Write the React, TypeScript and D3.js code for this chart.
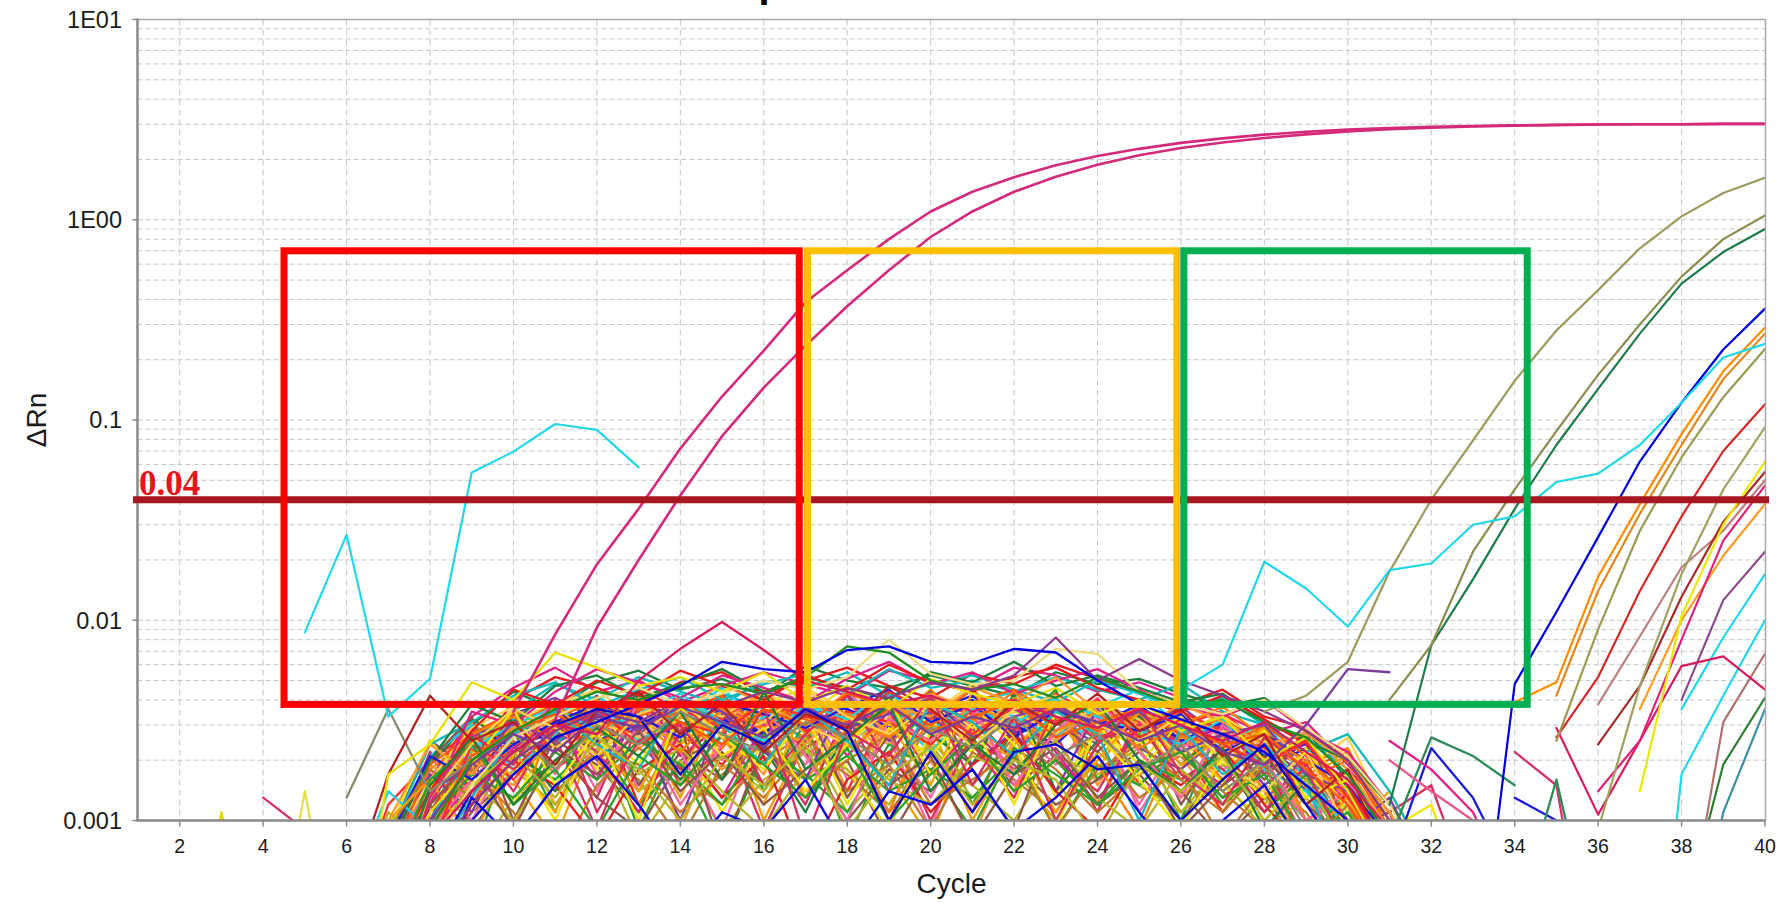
import * as d3 from 'd3'
import { useEffect, useRef } from 'react'

const W = 1789
const H = 903
const FONT = '"Liberation Sans", Arial, sans-serif'

const cycleTicks = [2, 4, 6, 8, 10, 12, 14, 16, 18, 20, 22, 24, 26, 28, 30, 32, 34, 36, 38, 40]
const decadeTicks = [0.001, 0.01, 0.1, 1, 10]
const decadeLabels = ['0.001', '0.01', '0.1', '1E00', '1E01']

const threshold = 0.04
const thresholdText = '0.04'

// highlighted windows, [from cycle, to cycle], all between the same ΔRn range
const boxCycles: [number, number][] = [[4.5, 16.85], [17.05, 25.9], [26.07, 34.3]]
const boxDeltaRn: [number, number] = [0.0038, 0.7]
const boxColors = ['#ff0000', '#ffc000', '#00b050']

// amplified wells, ΔRn per cycle, first value at `start`
const pinkA = [0.0035, 0.0085, 0.019, 0.036, 0.072, 0.131, 0.222, 0.387, 0.56, 0.8, 1.1, 1.38, 1.63, 1.87, 2.08, 2.26, 2.42, 2.55, 2.66, 2.75, 2.82, 2.87, 2.91, 2.94, 2.96, 2.98, 2.99, 3.0, 3.0, 3.01, 3.01]
const pinkB = [0.0032, 0.0092, 0.02, 0.042, 0.083, 0.145, 0.235, 0.37, 0.56, 0.82, 1.1, 1.38, 1.64, 1.88, 2.1, 2.28, 2.43, 2.56, 2.67, 2.76, 2.83, 2.88, 2.92, 2.95, 2.97, 2.99, 3.0, 3.0, 3.01, 3.01]
const cyanEarly = [0.0087, 0.0267, 0.0033, 0.0051, 0.0547, 0.0695, 0.0955, 0.0893, 0.058]
const cyanLate = [0.0045, 0.006, 0.0196, 0.0144, 0.0093, 0.0178, 0.0192, 0.03, 0.033, 0.049, 0.054, 0.075, 0.122, 0.205, 0.24]
const olive1 = [0.0035, 0.0042, 0.0062, 0.0175, 0.04, 0.079, 0.157, 0.28, 0.445, 0.72, 1.04, 1.36, 1.62]
const olive2 = [0.004, 0.0075, 0.022, 0.045, 0.088, 0.168, 0.3, 0.52, 0.8, 1.05]
const darkGreen1 = [0.0012, 0.0075, 0.016, 0.036, 0.075, 0.143, 0.27, 0.48, 0.69, 0.9]
const blue1 = [0.0001, 0.0048, 0.011, 0.026, 0.062, 0.122, 0.225, 0.36]
const orange1 = [0.0039, 0.0049, 0.0165, 0.038, 0.085, 0.175, 0.29]
const orange2 = [0.0042, 0.014, 0.034, 0.075, 0.16, 0.27]
const olive3 = [0.0025, 0.009, 0.028, 0.065, 0.13, 0.226]
const red1 = [0.0026, 0.0052, 0.014, 0.033, 0.07, 0.12]
const olive4 = [0.0009, 0.0047, 0.017, 0.045, 0.092]
const yellow1 = [0.0014, 0.0105, 0.03, 0.062]
const maroon1 = [0.0024, 0.0047, 0.0131, 0.031, 0.055]
const rosy1 = [0.0038, 0.0083, 0.0184, 0.028, 0.05]
const magenta1 = [0.0014, 0.0025, 0.008, 0.025, 0.047]
const orange3 = [0.0036, 0.01, 0.021, 0.038]
const purple1 = [0.004, 0.0126, 0.022]
const cyanB = [0.0036, 0.0082, 0.017]
const cyanC = [0.00002, 0.0017, 0.0042, 0.01]
const rosy2 = [0.0002, 0.0031, 0.0068]
const darkGreen2 = [0.0003, 0.0019, 0.0041]
const teal1 = [0.0001, 0.0011, 0.0036]
const magentaV = [0.0029, 0.00107, 0.0025, 0.0059, 0.0066, 0.0045]

const samples: { id: string; start: number; values: number[] }[] = [
  { id: 'teal1', start: 38, values: teal1 },
  { id: 'darkGreen2', start: 38, values: darkGreen2 },
  { id: 'rosy2', start: 38, values: rosy2 },
  { id: 'cyanC', start: 37, values: cyanC },
  { id: 'cyanB', start: 38, values: cyanB },
  { id: 'purple1', start: 38, values: purple1 },
  { id: 'magentaV', start: 35, values: magentaV },
  { id: 'orange3', start: 37, values: orange3 },
  { id: 'magenta1', start: 36, values: magenta1 },
  { id: 'rosy1', start: 36, values: rosy1 },
  { id: 'maroon1', start: 36, values: maroon1 },
  { id: 'yellow1', start: 37, values: yellow1 },
  { id: 'olive4', start: 36, values: olive4 },
  { id: 'red1', start: 35, values: red1 },
  { id: 'olive3', start: 35, values: olive3 },
  { id: 'orange2', start: 35, values: orange2 },
  { id: 'orange1', start: 34, values: orange1 },
  { id: 'blue1', start: 33, values: blue1 },
  { id: 'darkGreen1', start: 31, values: darkGreen1 },
  { id: 'olive2', start: 31, values: olive2 },
  { id: 'olive1', start: 28, values: olive1 },
  { id: 'cyanLate', start: 26, values: cyanLate },
  { id: 'cyanEarly', start: 5, values: cyanEarly },
  { id: 'pinkB', start: 11, values: pinkB },
  { id: 'pinkA', start: 10, values: pinkA },
]

const sampleColors: Record<string, string> = {
  teal1: '#3a8fa0', darkGreen2: '#2e7d32', rosy2: '#b07070', cyanC: '#22d8e6', cyanB: '#22d8e6',
  purple1: '#8b4a8b', magentaV: '#d81b60', orange3: '#ff9a20', magenta1: '#e0207a', rosy1: '#bc7f7f',
  maroon1: '#a52a2a', yellow1: '#e8e800', olive4: '#a0a060', red1: '#d62728', olive3: '#9a9a55',
  orange2: '#e0861a', orange1: '#ff8c00', blue1: '#0000dd', darkGreen1: '#1e7b4a', olive2: '#8c8c50',
  olive1: '#9c9a5c', cyanLate: '#22d8e6', cyanEarly: '#22d8e6', pinkB: '#d42a7c', pinkA: '#d42a7c',
}

// background wells, ΔRn in units of 1e-4, first value at cycle 6
const NOISE_START = 6
const NOISE_UNIT = 1e-4

const noiseHigh = [
  [1, 4, 10, 22, 35, 48, 40, 52, 44, 38, 50, 46, 55, 42, 48, 53, 45, 39, 50, 43, 36, 41, 30, 26, 18, 9, 4],
  [2, 6, 14, 28, 45, 38, 50, 42, 56, 47, 40, 53, 45, 60, 49, 44, 52, 58, 46, 40, 35, 42, 32, 24, 15, 7],
  [1, 3, 8, 19, 40, 52, 46, 38, 49, 55, 43, 50, 58, 47, 41, 54, 48, 60, 51, 44, 38, 45, 33, 29, 20, 10, 4, 2],
  [3, 5, 12, 35, 30, 44, 57, 49, 41, 53, 46, 39, 51, 62, 48, 55, 43, 50, 57, 45, 37, 33, 40, 28, 22, 12],
  [1, 5, 16, 33, 46, 58, 44, 50, 39, 47, 55, 48, 42, 56, 50, 45, 58, 53, 44, 49, 41, 34, 27, 31, 19, 11, 5],
  [2, 7, 20, 38, 31, 47, 53, 41, 48, 57, 44, 52, 46, 40, 55, 49, 62, 47, 53, 46, 39, 43, 31, 25, 20, 12, 6],
  [1, 2, 9, 30, 44, 36, 49, 56, 45, 51, 42, 59, 50, 46, 53, 47, 42, 55, 48, 51, 43, 37, 41, 28, 16, 8],
  [2, 8, 24, 31, 42, 49, 37, 45, 52, 40, 48, 54, 43, 57, 46, 50, 44, 52, 45, 40, 48, 35, 30, 22, 27, 14, 6],
]

const noiseMid = [
  [1, 5, 9, 16, 24, 30, 22, 36, 28, 41, 33, 26, 38, 31, 45, 29, 35, 40, 27, 33, 24, 30, 19, 25, 14, 8, 3],
  [3, 8, 21, 30, 18, 27, 39, 25, 33, 46, 30, 41, 24, 35, 28, 40, 33, 26, 37, 45, 29, 24, 31, 17, 9, 4],
  [1, 4, 13, 24, 36, 29, 21, 34, 40, 26, 31, 45, 33, 27, 38, 23, 36, 42, 30, 25, 33, 20, 14, 22, 9, 5, 2],
  [2, 9, 15, 11, 22, 38, 45, 31, 39, 27, 43, 36, 29, 41, 34, 48, 37, 26, 35, 40, 28, 33, 25, 18, 26, 10, 4, 2],
  [3, 10, 24, 17, 29, 34, 26, 41, 35, 48, 38, 30, 44, 37, 33, 46, 39, 52, 35, 29, 38, 31, 24, 27, 20, 11, 5],
  [1, 5, 12, 20, 15, 28, 35, 23, 30, 18, 26, 39, 31, 24, 37, 28, 20, 33, 27, 35, 22, 16, 24, 10, 13, 5, 2],
  [2, 3, 8, 27, 33, 25, 40, 31, 22, 36, 29, 42, 34, 26, 39, 31, 44, 28, 35, 23, 30, 37, 26, 20, 13, 7],
  [1, 6, 18, 26, 20, 32, 27, 38, 24, 35, 41, 28, 33, 25, 40, 34, 29, 37, 31, 26, 34, 22, 29, 19, 23, 9, 3],
  [4, 14, 9, 23, 30, 37, 28, 34, 43, 31, 25, 38, 32, 45, 27, 36, 30, 41, 33, 28, 24, 32, 18, 14, 8, 3],
  [1, 3, 11, 25, 19, 34, 42, 30, 37, 24, 33, 28, 40, 35, 22, 38, 44, 31, 26, 37, 29, 23, 30, 16, 11, 5, 2],
  [2, 7, 16, 29, 37, 23, 31, 26, 39, 33, 45, 30, 24, 36, 41, 29, 35, 27, 38, 32, 21, 28, 24, 13, 17, 7, 3],
  [1, 2, 6, 20, 31, 39, 33, 25, 36, 29, 38, 46, 35, 30, 42, 33, 27, 40, 34, 31, 26, 35, 20, 26, 12, 6],
  [3, 9, 19, 14, 27, 22, 35, 41, 29, 37, 31, 24, 38, 28, 43, 36, 32, 25, 39, 30, 35, 27, 22, 28, 18, 9, 4],
  [1, 4, 15, 32, 26, 36, 29, 43, 34, 27, 40, 33, 47, 30, 25, 37, 31, 42, 28, 24, 31, 19, 25, 15, 9, 4],
  [2, 5, 13, 22, 35, 28, 40, 32, 24, 35, 44, 27, 32, 38, 30, 26, 41, 35, 29, 36, 27, 21, 29, 17, 21, 10, 4, 1],
  [1, 8, 25, 18, 30, 24, 33, 38, 27, 42, 30, 36, 26, 41, 35, 28, 38, 32, 24, 34, 28, 33, 23, 17, 11, 6, 2],
  [2, 4, 10, 17, 28, 36, 25, 30, 38, 32, 27, 41, 36, 29, 34, 40, 27, 35, 30, 38, 25, 31, 21, 24, 14, 5],
  [1, 2, 9, 21, 28, 34, 27, 39, 31, 24, 36, 30, 43, 37, 28, 33, 39, 26, 31, 36, 30, 24, 27, 18, 12, 6, 2],
  [2, 6, 17, 12, 26, 33, 39, 29, 35, 42, 28, 34, 25, 38, 32, 45, 30, 36, 28, 33, 27, 31, 22, 16, 20, 9],
  [1, 3, 7, 24, 18, 29, 36, 24, 31, 27, 39, 33, 29, 44, 35, 27, 37, 31, 40, 26, 32, 24, 19, 25, 13, 7, 3],
  [3, 12, 20, 28, 22, 37, 30, 45, 36, 29, 34, 41, 31, 27, 39, 34, 28, 43, 33, 25, 30, 35, 23, 19, 10, 4],
  [1, 4, 14, 19, 31, 25, 34, 28, 40, 35, 23, 37, 29, 34, 41, 26, 33, 38, 29, 35, 22, 27, 30, 17, 14, 6, 2],
  [2, 5, 10, 26, 34, 41, 32, 27, 37, 30, 42, 35, 28, 40, 33, 30, 36, 27, 34, 29, 37, 26, 21, 14, 9, 4],
  [1, 8, 21, 16, 24, 31, 38, 33, 26, 39, 34, 29, 37, 45, 31, 38, 26, 35, 31, 28, 34, 22, 27, 20, 15, 8, 3],
  [2, 3, 12, 30, 23, 28, 35, 42, 30, 36, 27, 33, 39, 29, 35, 42, 30, 24, 37, 33, 25, 29, 18, 23, 11, 5],
  [1, 6, 19, 27, 35, 30, 24, 33, 41, 29, 38, 32, 26, 36, 30, 39, 45, 33, 28, 34, 27, 23, 30, 21, 13, 6, 2],
  [3, 9, 14, 21, 30, 38, 29, 36, 31, 24, 35, 40, 30, 27, 38, 32, 36, 28, 40, 31, 26, 33, 24, 18, 22, 10, 4],
  [1, 2, 11, 23, 16, 28, 34, 26, 39, 32, 45, 28, 35, 31, 24, 36, 30, 39, 26, 30, 35, 28, 20, 25, 14, 7, 2],
  [2, 7, 16, 25, 32, 24, 37, 31, 28, 43, 36, 25, 33, 39, 29, 34, 27, 40, 35, 29, 24, 31, 22, 15, 9, 3],
]

const noiseLow = [
  [1, 2, 5, 12, 20, 15, 8, 18, 24, 13, 21, 6, 16, 22, 11, 19, 27, 14, 9, 20, 15, 23, 12, 7, 14, 4, 2],
  [2, 6, 14, 9, 17, 25, 19, 11, 22, 16, 28, 13, 20, 8, 18, 24, 15, 21, 12, 17, 10, 19, 14, 6, 9, 3],
  [1, 3, 9, 18, 11, 6, 15, 23, 17, 12, 20, 27, 14, 19, 9, 22, 16, 11, 24, 13, 18, 8, 15, 11, 5, 2],
  [3, 11, 7, 15, 22, 13, 26, 18, 10, 21, 15, 24, 9, 17, 23, 12, 20, 16, 8, 19, 14, 21, 10, 16, 7, 3],
  [1, 4, 10, 6, 13, 19, 24, 14, 20, 9, 16, 22, 18, 12, 25, 15, 10, 21, 17, 23, 11, 16, 9, 13, 6, 2],
  [2, 5, 16, 24, 12, 18, 9, 21, 15, 27, 19, 13, 23, 10, 17, 26, 14, 20, 12, 18, 22, 13, 17, 8, 11, 5, 2],
  [1, 2, 8, 14, 21, 16, 25, 12, 19, 7, 22, 17, 11, 24, 18, 13, 21, 9, 19, 15, 24, 12, 18, 10, 6, 3],
  [2, 7, 12, 20, 9, 23, 17, 28, 14, 22, 12, 18, 26, 15, 21, 8, 17, 23, 13, 20, 9, 15, 21, 12, 8, 4, 2],
  [1, 3, 6, 11, 17, 24, 13, 9, 20, 26, 15, 22, 10, 18, 14, 25, 19, 12, 16, 22, 14, 8, 13, 18, 9, 4],
  [3, 9, 18, 13, 8, 15, 22, 19, 11, 17, 24, 14, 20, 27, 12, 16, 22, 9, 18, 24, 16, 11, 19, 7, 12, 5, 2],
  [1, 5, 11, 19, 25, 14, 21, 16, 8, 19, 13, 23, 17, 11, 20, 15, 26, 18, 11, 17, 21, 14, 9, 15, 6, 3],
  [2, 4, 7, 16, 10, 20, 27, 17, 23, 14, 9, 18, 24, 16, 12, 21, 17, 25, 13, 9, 18, 12, 20, 10, 7, 3],
  [1, 6, 15, 10, 18, 12, 23, 8, 16, 21, 14, 26, 11, 19, 24, 13, 18, 10, 22, 15, 11, 19, 13, 8, 12, 4, 1],
  [2, 3, 10, 17, 13, 22, 16, 25, 19, 12, 27, 16, 21, 14, 18, 9, 23, 17, 12, 20, 16, 21, 11, 17, 8, 4],
]

// wide zig-zag wells that run from the axis to the top of the band
const noiseWide = [
  [1, 3, 12, 6, 28, 11, 34, 9, 25, 40, 14, 31, 8, 22, 37, 12, 29, 45, 16, 27, 10, 33, 19, 7, 15, 5, 2],
  [2, 8, 20, 33, 10, 26, 42, 15, 30, 7, 24, 38, 13, 27, 44, 18, 9, 31, 22, 36, 12, 25, 16, 28, 9, 11, 3],
  [1, 2, 7, 18, 30, 12, 22, 36, 9, 28, 17, 41, 14, 33, 20, 8, 26, 39, 15, 30, 21, 11, 24, 13, 18, 6, 2],
  [3, 6, 14, 25, 9, 35, 20, 12, 31, 23, 46, 16, 29, 11, 35, 25, 14, 38, 19, 9, 27, 16, 30, 10, 14, 4],
  [1, 4, 9, 29, 16, 8, 27, 33, 13, 39, 10, 26, 35, 17, 8, 30, 21, 44, 12, 28, 18, 34, 12, 20, 8, 3],
  [2, 5, 18, 10, 24, 33, 14, 40, 22, 9, 32, 19, 45, 26, 13, 34, 17, 25, 36, 11, 23, 29, 14, 9, 16, 7, 2],
  [1, 3, 13, 27, 19, 40, 11, 25, 30, 16, 37, 8, 28, 21, 42, 15, 33, 10, 24, 38, 17, 12, 26, 18, 7, 3],
  [1, 7, 22, 13, 34, 26, 9, 31, 18, 43, 24, 12, 36, 29, 10, 27, 39, 20, 14, 31, 25, 18, 11, 22, 12, 5, 1],
  [2, 4, 11, 19, 36, 15, 28, 10, 37, 21, 29, 14, 24, 40, 17, 31, 12, 35, 27, 16, 9, 21, 28, 13, 16, 9, 12, 3],
  [1, 2, 8, 23, 12, 30, 18, 44, 27, 11, 25, 35, 18, 9, 28, 22, 41, 13, 30, 19, 34, 15, 10, 17, 11, 4],
  [3, 10, 16, 8, 21, 38, 24, 14, 33, 27, 12, 39, 23, 31, 15, 44, 26, 11, 20, 35, 19, 26, 14, 8, 13, 5, 2],
  [1, 5, 14, 31, 20, 11, 35, 26, 17, 42, 29, 13, 34, 20, 30, 10, 24, 33, 18, 38, 13, 21, 17, 25, 9, 14, 6],
  [2, 3, 9, 16, 26, 38, 17, 29, 12, 24, 36, 21, 10, 32, 25, 38, 15, 28, 41, 22, 13, 30, 20, 10, 14, 6, 2],
  [1, 6, 21, 12, 29, 17, 40, 14, 36, 20, 31, 44, 16, 26, 9, 35, 29, 19, 33, 12, 27, 18, 24, 13, 7, 3],
  [2, 4, 12, 26, 14, 32, 22, 11, 28, 38, 15, 27, 42, 19, 33, 24, 13, 37, 25, 30, 16, 22, 11, 19, 10, 4, 1],
  [1, 3, 8, 17, 35, 24, 13, 38, 21, 30, 9, 25, 33, 14, 40, 28, 18, 27, 11, 36, 21, 15, 26, 14, 18, 11, 15, 4],
  [3, 9, 25, 15, 22, 10, 31, 19, 41, 26, 18, 34, 12, 29, 21, 37, 24, 9, 30, 17, 32, 20, 13, 23, 11, 5, 2],
  [1, 2, 10, 21, 31, 18, 26, 35, 15, 23, 39, 28, 14, 37, 23, 11, 32, 26, 40, 15, 24, 11, 19, 8, 12, 4],
  [2, 7, 17, 11, 28, 36, 20, 30, 10, 34, 22, 16, 43, 25, 35, 19, 28, 14, 36, 23, 18, 27, 15, 22, 9, 13, 5],
  [1, 4, 13, 29, 18, 25, 40, 12, 27, 19, 33, 23, 31, 10, 26, 33, 20, 42, 16, 29, 22, 13, 20, 10, 6, 2],
  [2, 5, 10, 14, 23, 31, 16, 42, 24, 13, 30, 40, 21, 35, 17, 29, 37, 22, 12, 31, 24, 30, 17, 25, 14, 7, 3],
  [1, 3, 15, 26, 12, 20, 29, 21, 35, 16, 44, 18, 26, 38, 14, 24, 17, 30, 39, 20, 14, 23, 9, 16, 7, 2],
  [3, 8, 19, 32, 24, 14, 37, 28, 16, 33, 23, 11, 29, 36, 27, 19, 43, 14, 25, 33, 19, 28, 21, 12, 18, 8, 10, 3],
  [1, 2, 6, 13, 27, 35, 24, 18, 41, 30, 19, 36, 25, 15, 39, 31, 21, 35, 27, 10, 29, 17, 24, 15, 5, 2],
]

// wells that stand out from the background band
const pink15 = [1, 3, 8, 14, 22, 30, 27, 50, 72, 98, 71, 50, 44, 38, 42, 35, 40, 33, 29, 36, 30, 25, 31, 22, 16, 9, 4]
const darkRed = [4, 17, 42, 25, 31, 19, 35, 44, 27, 38, 22, 34, 29, 47, 36, 25, 39, 30, 43, 28, 36, 21, 27, 12, 18, 6, 2]
const blueTop = [1, 2, 4, 10, 17, 26, 31, 38, 47, 62, 57, 55, 71, 74, 62, 61, 72, 69, 50, 38, 32, 27, 22, 15, 10, 5]
const blueMid = [1, 2, 6, 14, 22, 30, 36, 33, 17, 30, 24, 36, 28, 10, 22, 11, 22, 24, 18, 19, 10, 16, 24, 12, 6, 2]
const blueLow = [1, 1, 4, 13, 8, 15, 21, 12, 6, 11, 9, 16, 7, 14, 12, 18, 9, 13, 21, 11, 6, 10, 15, 7, 3]
const greenTop = [1, 3, 9, 20, 28, 36, 44, 40, 46, 48, 43, 52, 74, 69, 50, 45, 48, 41, 52, 44, 37, 40, 31, 26, 17, 8, 3]
const purpleTop = [1, 2, 6, 12, 20, 28, 35, 31, 40, 37, 44, 39, 46, 41, 49, 45, 53, 82, 50, 64, 50, 42, 35, 28, 20, 10, 4]
const purple30 = [1, 3, 10, 19, 27, 22, 33, 29, 37, 31, 26, 35, 30, 38, 27, 33, 29, 36, 31, 25, 30, 22, 19, 30, 57, 55]
const khakiTop = [1, 2, 7, 15, 26, 33, 41, 46, 38, 43, 50, 45, 52, 80, 54, 48, 50, 72, 68, 44, 38, 34, 40, 29, 21, 12, 5]
const yellowTop = [1, 17, 24, 49, 40, 69, 58, 47, 52, 44, 55, 39, 47, 36, 51, 43, 38, 46, 34, 40, 28, 33, 20, 26, 14, 6]
const gray6 = [13, 36, 14, 20, 27, 18, 30, 24, 35, 27, 22, 31, 26, 19, 29, 23, 33, 21, 27, 18, 24, 14, 20, 9, 5]

const noiseMarked = [gray6, darkRed, yellowTop, khakiTop, purple30, blueLow, greenTop, blueMid, purpleTop, pink15, blueTop]
const markedColors = ['#8b8b6b', '#b22222', '#e8e000', '#eedc82', '#7d3c98', '#0000ee', '#228b22', '#0000cc', '#8b3a8b', '#d81b60', '#0000dd']

// short fragments, [start cycle, values in 1e-4]
const noiseBits: [number, number[]][] = [
  [2, [1, 11, 1]],
  [4, [13, 9]],
  [4, [1, 14, 1]],
  [31, [8, 26, 21, 15]],
  [31, [6, 23, 13, 5]],
  [31, [25, 18, 11, 4]],
  [31, [20, 14, 10, 3]],
  [34, [13, 10]],
  [34, [22, 15, 1]],
  [34, [3, 16, 2]],
]
const bitColors = ['#e6d800', '#d6336c', '#e6e04a', '#2e8b57', '#1a1adb', '#e0218a', '#e85a8a', '#1a1adb', '#d6336c', '#2e8b57']

const palette = [
  '#ff8000', '#e41a1c', '#f2e600', '#2ca02c', '#ff5a00', '#19d3e6', '#e0218a', '#f4a000', '#8c564b', '#ff3030',
  '#ffd24d', '#1b7f3a', '#ff66a3', '#c07a2c', '#7b3fa0', '#ff9933', '#14b8b8', '#d62f5f', '#b5b52a', '#1a1adb',
]

export default function App() {
  const svgRef = useRef<SVGSVGElement>(null)

  useEffect(() => {
    document.body.style.margin = '0'
    const svg = d3.select(svgRef.current)
    svg.selectAll('*').remove()

    const x = d3.scaleLinear().domain([1, 40]).range([138, 1765])
    const y = d3.scaleLog().domain([0.001, 10]).range([820.5, 19.5])
    const left = 137.5, right = 1765.5, top = 19.5, bottom = 820.5

    svg.append('defs').append('clipPath').attr('id', 'plotArea')
      .append('rect').attr('x', left).attr('y', top).attr('width', right - left).attr('height', bottom - top)

    // title, mostly above the page edge
    svg.append('text')
      .attr('x', 694).attr('y', -3)
      .attr('font-family', FONT).attr('font-weight', 'bold').attr('font-size', 40)
      .text('Amplification Plot')

    // grid
    const grid = svg.append('g').attr('stroke', '#c6c6c6').attr('stroke-width', 1)
    const minor = d3.range(-3, 1)
      .flatMap(e => d3.range(1, 10).map(k => +(k * Math.pow(10, e)).toPrecision(3)))
      .filter(v => v > 0.001 && v < 10)
    grid.selectAll('line.h').data(minor).join('line')
      .attr('class', 'h')
      .attr('x1', left).attr('x2', right)
      .attr('y1', d => y(d)).attr('y2', d => y(d))
      .attr('stroke-dasharray', '5,3')
    grid.selectAll('line.v').data(cycleTicks.filter(c => c < 40)).join('line')
      .attr('class', 'v')
      .attr('x1', d => x(d)).attr('x2', d => x(d))
      .attr('y1', top).attr('y2', bottom)
      .attr('stroke-dasharray', '6,4')

    const lineAt = (start: number, unit: number) => d3.line<number>()
      .x((_, i) => x(start + i))
      .y(d => y(Math.max(d * unit, 1e-6)))

    const plot = svg.append('g').attr('clip-path', 'url(#plotArea)')
      .attr('fill', 'none').attr('stroke-linejoin', 'round').attr('stroke-linecap', 'round')

    // background band
    const noise = [...noiseMid, ...noiseLow, ...noiseWide, ...noiseHigh]
    const order = d3.range(noise.length).sort((a, b) => ((a * 37) % 79) - ((b * 37) % 79))
    const bg = plot.append('g').attr('stroke-width', 2.3)
    order.forEach((idx, k) => {
      bg.append('path')
        .attr('d', lineAt(NOISE_START, NOISE_UNIT)(noise[idx]))
        .attr('stroke', palette[(k * 7) % palette.length])
    })
    noiseMarked.forEach((vals, i) => {
      bg.append('path')
        .attr('d', lineAt(NOISE_START, NOISE_UNIT)(vals))
        .attr('stroke', markedColors[i])
    })
    noiseBits.forEach(([start, vals], i) => {
      bg.append('path')
        .attr('d', lineAt(start, NOISE_UNIT)(vals))
        .attr('stroke', bitColors[i])
    })

    // amplified wells
    samples.forEach(s => {
      plot.append('path')
        .attr('d', lineAt(s.start, 1)(s.values))
        .attr('stroke', sampleColors[s.id])
        .attr('stroke-width', s.id.startsWith('pink') ? 2.6 : 2.2)
    })

    // axes frame
    const frame = svg.append('g')
    frame.append('line').attr('x1', left).attr('x2', right).attr('y1', top).attr('y2', top)
      .attr('stroke', '#a8a8a8').attr('stroke-width', 1.5)
    frame.append('line').attr('x1', right).attr('x2', right).attr('y1', top).attr('y2', bottom)
      .attr('stroke', '#a8a8a8').attr('stroke-width', 1.5)
    frame.append('line').attr('x1', left).attr('x2', left).attr('y1', top - 1).attr('y2', bottom + 1)
      .attr('stroke', '#8a8a8a').attr('stroke-width', 2.5)
    frame.append('line').attr('x1', left - 1).attr('x2', right).attr('y1', bottom).attr('y2', bottom)
      .attr('stroke', '#8a8a8a').attr('stroke-width', 2.5)

    frame.selectAll('line.xt').data(cycleTicks).join('line')
      .attr('class', 'xt')
      .attr('x1', d => x(d)).attr('x2', d => x(d))
      .attr('y1', bottom).attr('y2', bottom + 6)
      .attr('stroke', '#8a8a8a').attr('stroke-width', 1.5)
    frame.selectAll('line.yt').data(decadeTicks).join('line')
      .attr('class', 'yt')
      .attr('x1', left - 5).attr('x2', left)
      .attr('y1', d => y(d)).attr('y2', d => y(d))
      .attr('stroke', '#8a8a8a').attr('stroke-width', 1.5)

    const labels = svg.append('g').attr('font-family', FONT).attr('fill', '#1a1a1a')
    labels.selectAll('text.xl').data(cycleTicks).join('text')
      .attr('class', 'xl')
      .attr('x', d => x(d)).attr('y', 853)
      .attr('text-anchor', 'middle').attr('font-size', 19.5)
      .text(d => String(d))
    labels.selectAll('text.yl').data(decadeTicks).join('text')
      .attr('class', 'yl')
      .attr('x', 122).attr('y', d => y(d)).attr('dy', '0.36em')
      .attr('text-anchor', 'end').attr('font-size', 23.5)
      .text((_, i) => decadeLabels[i])
    labels.append('text')
      .attr('x', (left + right) / 2).attr('y', 893)
      .attr('text-anchor', 'middle').attr('font-size', 28)
      .text('Cycle')
    labels.append('text')
      .attr('transform', `translate(46, ${(top + bottom) / 2}) rotate(-90)`)
      .attr('text-anchor', 'middle').attr('font-size', 28)
      .text('ΔRn')

    // threshold
    svg.append('line')
      .attr('x1', left - 4.5).attr('x2', right + 3.5)
      .attr('y1', y(threshold)).attr('y2', y(threshold))
      .attr('stroke', '#a8161f').attr('stroke-width', 7)

    // highlighted windows
    svg.append('g').selectAll('rect').data(boxCycles).join('rect')
      .attr('x', d => x(d[0])).attr('width', d => x(d[1]) - x(d[0]))
      .attr('y', y(boxDeltaRn[1])).attr('height', y(boxDeltaRn[0]) - y(boxDeltaRn[1]))
      .attr('fill', 'none').attr('stroke-width', 7)
      .attr('stroke', (_, i) => boxColors[i])

    svg.append('text')
      .attr('x', 139).attr('y', y(threshold) - 5)
      .attr('font-family', '"Liberation Serif", "Times New Roman", serif')
      .attr('font-weight', 'bold').attr('font-size', 35).attr('fill', '#e8141c')
      .text(thresholdText)
  }, [])

  return (
    <svg
      ref={svgRef}
      width={W}
      height={H}
      style={{ position: 'absolute', left: 0, top: 0, background: '#fff', display: 'block' }}
    />
  )
}
